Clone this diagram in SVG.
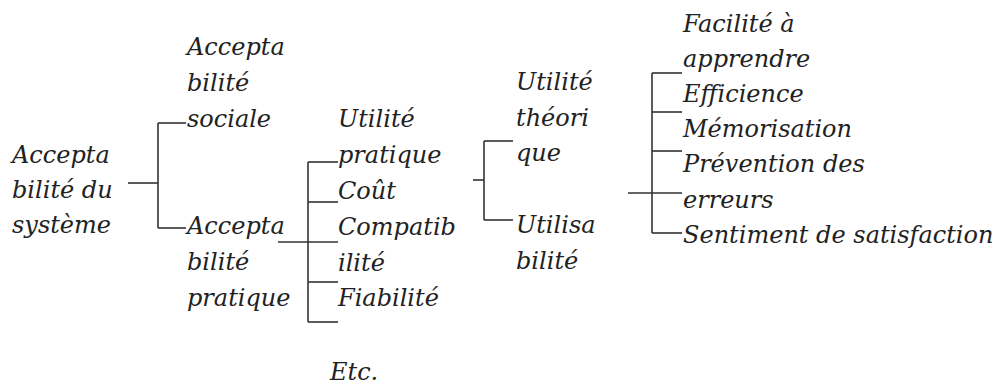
<svg xmlns="http://www.w3.org/2000/svg" width="998" height="387" viewBox="0 0 998 387">
<style>
text{font-family:"DejaVu Serif","Liberation Serif",serif;font-style:italic;font-size:24px;fill:#222}
.c line{stroke:#333;stroke-width:1.6;fill:none}
</style>
<rect width="998" height="387" fill="#fff"/>
<g id="n-systeme"><text x="12" y="163">Accepta</text><text x="12" y="198">bilité du</text><text x="12" y="233">système</text></g>
<g id="n-sociale"><text x="187" y="55">Accepta</text><text x="187" y="91">bilité</text><text x="187" y="127">sociale</text></g>
<g id="n-pratique"><text x="187" y="234">Accepta</text><text x="187" y="270">bilité</text><text x="187" y="306">pratique</text></g>
<g id="n-utilite-pratique"><text x="338" y="127">Utilité</text><text x="338" y="163">pratique</text></g>
<g id="n-cout"><text x="338" y="199">Coût</text></g>
<g id="n-compat"><text x="338" y="235">Compatib</text><text x="338" y="271">ilité</text></g>
<g id="n-fiab"><text x="338" y="306">Fiabilité</text></g>
<g id="n-etc"><text x="330" y="380">Etc.</text></g>
<g id="n-utilite-theorique"><text x="516" y="90">Utilité</text><text x="516" y="126">théori</text><text x="516" y="161">que</text></g>
<g id="n-utilisabilite"><text x="516" y="233">Utilisa</text><text x="516" y="269">bilité</text></g>
<g id="n-facilite"><text x="683" y="32">Facilité à</text><text x="683" y="67">apprendre</text></g>
<g id="n-efficience"><text x="683" y="102">Efficience</text></g>
<g id="n-memo"><text x="683" y="137">Mémorisation</text></g>
<g id="n-prevention"><text x="683" y="172">Prévention des</text><text x="683" y="208">erreurs</text></g>
<g id="n-satisfaction"><text x="683" y="243">Sentiment de satisfaction</text></g>
<g class="c" id="connectors">
<line x1="128" y1="183" x2="158" y2="183"/>
<line x1="158" y1="123" x2="158" y2="228"/>
<line x1="158" y1="123" x2="186" y2="123"/>
<line x1="158" y1="228" x2="186" y2="228"/>
<line x1="278" y1="242" x2="338" y2="242"/>
<line x1="308" y1="162" x2="308" y2="322"/>
<line x1="308" y1="162" x2="338" y2="162"/>
<line x1="308" y1="202" x2="338" y2="202"/>
<line x1="308" y1="282" x2="338" y2="282"/>
<line x1="308" y1="322" x2="338" y2="322"/>
<line x1="473" y1="180" x2="484" y2="180"/>
<line x1="484" y1="141" x2="484" y2="220"/>
<line x1="484" y1="141" x2="513" y2="141"/>
<line x1="484" y1="220" x2="513" y2="220"/>
<line x1="628" y1="193" x2="682" y2="193"/>
<line x1="652" y1="73" x2="652" y2="233"/>
<line x1="652" y1="73" x2="682" y2="73"/>
<line x1="652" y1="112" x2="682" y2="112"/>
<line x1="652" y1="151" x2="682" y2="151"/>
<line x1="652" y1="233" x2="682" y2="233"/>
</g>
</svg>
